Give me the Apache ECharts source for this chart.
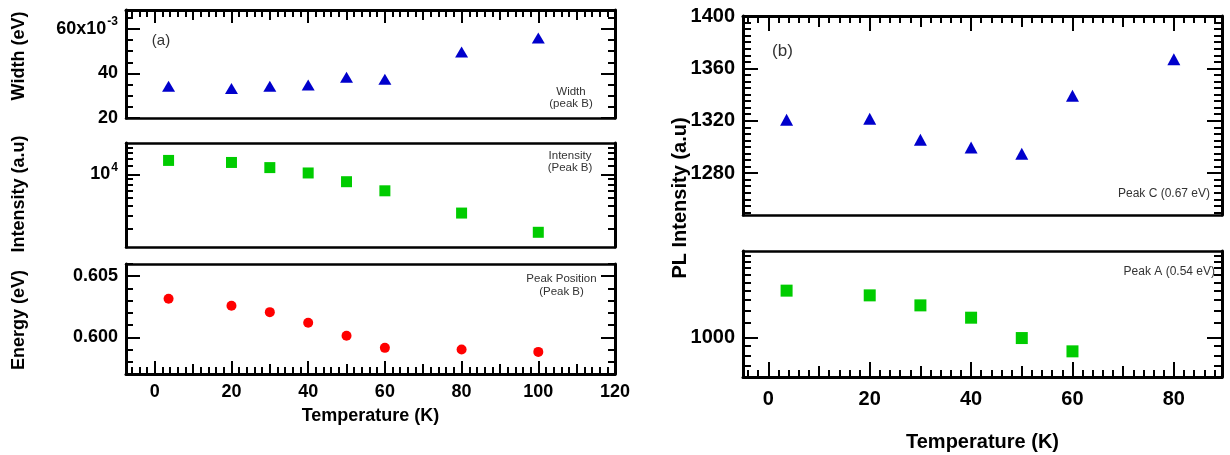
<!DOCTYPE html>
<html><head><meta charset="utf-8">
<script src="https://cdn.jsdelivr.net/npm/echarts@6/dist/echarts.min.js"></script>
<style>html,body{margin:0;padding:0;background:#fff}#c{width:1230px;height:455px}</style>
</head><body><div id="c"></div>
<script>
// ---------- data ----------
const tempPeakB = [3.6, 20, 30, 40, 50, 60, 80, 100];
const widthPeakB = [34.3, 33.3, 34.3, 34.8, 38.3, 37.4, 49.6, 55.9];      // x10^-3 eV
const intensityPeakB = [13600, 13000, 11600, 10300, 8490, 6940, 4240, 2770];
const energyPeakB = [0.60316, 0.60258, 0.60206, 0.60120, 0.60013, 0.59914, 0.59901, 0.59881];
const tempPeakC = [3.6, 20, 30, 40, 50, 60, 80];
const intensityPeakC = [1320.8, 1321.5, 1305.5, 1299.6, 1294.8, 1339.1, 1366.9];
const tempPeakA = [3.6, 20, 30, 40, 50, 60];
const intensityPeakA = [1805, 1701, 1500, 1285, 995, 842];

// ---------- tick labels ----------
const leftTempLabels = [0, 20, 40, 60, 80, 100, 120];
const leftTempMedium = [10, 30, 50, 70, 90, 110];
const rightTempLabels = [0, 20, 40, 60, 80];
const rightTempMedium = [10, 30, 50, 70];
const widthLabels = [20, 40, 60];
const widthMinor = [25, 30, 35, 45, 50, 55, 65];
const intensityBLabels = [10000];
const intensityBMinor = [3000, 4000, 5000, 6000, 7000, 8000, 9000, 12000, 14000, 16000, 18000];
const energyLabels = [0.600, 0.605];
const energyMinor = [0.597, 0.598, 0.599, 0.601, 0.602, 0.603, 0.604, 0.606];
const peakCLabels = [1280, 1320, 1360, 1400];
const peakCMinor = [1250, 1255, 1260, 1265, 1270, 1275, 1285, 1290, 1295, 1300, 1305, 1310, 1315,
  1325, 1330, 1335, 1340, 1345, 1350, 1355, 1365, 1370, 1375, 1380, 1385, 1390, 1395];
const peakALabels = [1000];
const peakAMinor = [700, 800, 900, 1200, 1400, 1600, 1800, 2000, 2200, 2400, 2600, 2800];

function minorSteps(from, to) { // 2 K minor ticks, skipping those on 10 K
  const out = [];
  for (let v = from; v <= to; v += 2) if (v % 10 !== 0) out.push(v);
  return out;
}
const leftTempMinor = minorSteps(-6, 118);
const rightTempMinor = minorSteps(-4, 88);

const FONT = '"Liberation Sans", Arial, Helvetica, sans-serif';
const xAxes = [], yAxes = [];

function addAxis(list, o) {
  list.push({
    type: o.type || 'value', gridIndex: o.grid, position: o.pos,
    min: o.min, max: o.max, logBase: 10,
    name: o.name || '', nameLocation: 'middle', nameGap: o.nameGap || 0,
    nameTextStyle: { color: '#000', fontFamily: FONT, fontWeight: 'bold', fontSize: o.nameSize || 18 },
    axisLine: { show: !!o.line, onZero: false, lineStyle: { color: '#000', width: o.lw || 3 } },
    axisTick: o.ticks ? { show: true, inside: true, length: o.len, customValues: o.ticks,
      lineStyle: { color: '#000', width: 2 } } : { show: false },
    minorTick: { show: false },
    splitLine: { show: false },
    axisLabel: o.labels ? { show: true, customValues: o.labels, formatter: o.fmt, rich: o.rich,
      color: '#000', fontFamily: FONT, fontWeight: 'bold', fontSize: o.fs, margin: o.margin } : { show: false }
  });
  return list.length - 1;
}

const richL = {
  n: { fontSize: 18, fontWeight: 'bold', fontFamily: FONT, color: '#000', lineHeight: 26 },
  s: { fontSize: 12, fontWeight: 'bold', fontFamily: FONT, color: '#000', verticalAlign: 'top', lineHeight: 26, padding: [0, 0, 0, 1] }
};

// grid geometry
const grids = [
  { left: 126, top: 10, width: 489, height: 108 },
  { left: 126, top: 143, width: 489, height: 104 },
  { left: 126, top: 264, width: 489, height: 110 },
  { left: 743, top: 16, width: 479, height: 199 },
  { left: 743, top: 251, width: 479, height: 126 }
].map(g => Object.assign({ outerBoundsMode: 'none', containLabel: false, show: false }, g));

const LX = { min: -7.5, max: 120 }, RX = { min: -5, max: 89.5 };

function tempTicks(grid, pos, R, major, medium, minor, withLabels, name, fs, nameGap, lens, margin) {
  const main = addAxis(xAxes, Object.assign({ grid, pos, line: true, ticks: major, len: lens[0],
    labels: withLabels ? major : null, fs, margin, name, nameGap, nameSize: fs }, R));
  addAxis(xAxes, Object.assign({ grid, pos, ticks: medium, len: lens[1] }, R));
  addAxis(xAxes, Object.assign({ grid, pos, ticks: minor, len: lens[2] }, R));
  return main;
}
function yTicks(grid, R, type, major, minor, labels, fmt, rich, fs, lens) {
  const main = addAxis(yAxes, Object.assign({ grid, pos: 'left', type, line: true, ticks: major, len: lens[0],
    labels, fmt, rich, fs, margin: 8 }, R));
  addAxis(yAxes, Object.assign({ grid, pos: 'left', type, ticks: minor, len: lens[1] }, R));
  addAxis(yAxes, Object.assign({ grid, pos: 'right', type, line: true, ticks: major, len: lens[0] }, R));
  addAxis(yAxes, Object.assign({ grid, pos: 'right', type, ticks: minor, len: lens[1] }, R));
  return main;
}

// Grid 0: width
const x0 = addAxis(xAxes, Object.assign({ grid: 0, pos: 'bottom', line: true, lw: 2.5 }, LX));
tempTicks(0, 'top', LX, leftTempLabels, leftTempMedium, leftTempMinor, false, '', 18, 0, [13, 10, 7], 9);
const y0 = yTicks(0, { min: 20, max: 68.5 }, 'value', widthLabels, widthMinor, widthLabels,
  v => v === 60 ? '{n|60x10}{s|-3}' : '{n|' + v + '}', richL, 18, [14, 7]);

// Grid 1: intensity (log)
const x1 = addAxis(xAxes, Object.assign({ grid: 1, pos: 'bottom', line: true, lw: 2.5 }, LX));
addAxis(xAxes, Object.assign({ grid: 1, pos: 'top', line: true, lw: 2.5 }, LX));
const y1 = yTicks(1, { min: 2000, max: 20000 }, 'log', intensityBLabels, intensityBMinor, intensityBLabels,
  v => '{n|10}{s|4}', richL, 18, [14, 7]);

// Grid 2: energy
const x2 = tempTicks(2, 'bottom', LX, leftTempLabels, leftTempMedium, leftTempMinor, true, 'Temperature (K)', 18, 33, [13, 10, 7], 9);
addAxis(xAxes, Object.assign({ grid: 2, pos: 'top', line: true, lw: 2.5 }, LX));
const y2 = yTicks(2, { min: 0.597, max: 0.606 }, 'value', energyLabels, energyMinor, energyLabels,
  v => v.toFixed(3), null, 18, [14, 7]);

// Grid 3: peak C
const x3 = addAxis(xAxes, Object.assign({ grid: 3, pos: 'bottom', line: true, lw: 2.5 }, RX));
tempTicks(3, 'top', RX, rightTempLabels, rightTempMedium, rightTempMinor, false, '', 20, 0, [15, 11, 7], 12);
const y3 = yTicks(3, { min: 1248, max: 1400 }, 'value', peakCLabels, peakCMinor, peakCLabels,
  v => String(v), null, 20, [15, 8]);

// Grid 4: peak A (log)
const x4 = tempTicks(4, 'bottom', RX, rightTempLabels, rightTempMedium, rightTempMinor, true, 'Temperature (K)', 20, 55, [15, 11, 7], 12);
addAxis(xAxes, Object.assign({ grid: 4, pos: 'top', line: true, lw: 2.5 }, RX));
const y4 = yTicks(4, { min: 610, max: 2970 }, 'log', peakALabels, peakAMinor, peakALabels,
  v => String(v), null, 20, [15, 8]);

const zip = (xs, ys) => xs.map((x, i) => [x, ys[i]]);
const BLUE = '#0000CC', GREEN = '#00CC00', RED = '#FF0000';
const solid = c => ({ color: c, opacity: 1 });

const series = [
  { name: 'Width (peak B)', type: 'scatter', xAxisIndex: x0, yAxisIndex: y0, data: zip(tempPeakB, widthPeakB),
    symbol: 'triangle', symbolSize: [13, 11], itemStyle: solid(BLUE) },
  { name: 'Intensity (Peak B)', type: 'scatter', xAxisIndex: x1, yAxisIndex: y1, data: zip(tempPeakB, intensityPeakB),
    symbol: 'rect', symbolSize: 11, itemStyle: solid(GREEN) },
  { name: 'Peak Position (Peak B)', type: 'scatter', xAxisIndex: x2, yAxisIndex: y2, data: zip(tempPeakB, energyPeakB),
    symbol: 'circle', symbolSize: 10, itemStyle: solid(RED) },
  { name: 'Peak C (0.67 eV)', type: 'scatter', xAxisIndex: x3, yAxisIndex: y3, data: zip(tempPeakC, intensityPeakC),
    symbol: 'triangle', symbolSize: [13, 12], itemStyle: solid(BLUE) },
  { name: 'Peak A (0.54 eV)', type: 'scatter', xAxisIndex: x4, yAxisIndex: y4, data: zip(tempPeakA, intensityPeakA),
    symbol: 'rect', symbolSize: 12, itemStyle: solid(GREEN) }
];

function txt(text, x, y, opts) {
  return Object.assign({ type: 'text', x, y, z: 100, silent: true,
    style: Object.assign({ text, fill: '#333', fontFamily: FONT, fontSize: 11.5,
      align: 'center', verticalAlign: 'middle', lineHeight: 12 }, (opts && opts.style) || {}) },
    opts && opts.rotation ? { rotation: opts.rotation } : {});
}
const titleStyle = { fill: '#000', fontWeight: 'bold', fontSize: 18, lineHeight: 20 };
const graphic = [
  txt('(a)', 161, 41, { style: { fontSize: 15, lineHeight: 16 } }),
  txt('Width\n(peak B)', 571, 97.5),
  txt('Intensity\n(Peak B)', 570, 162),
  txt('Peak Position\n(Peak B)', 561.5, 285.5, { style: { lineHeight: 12.5 } }),
  txt('(b)', 782.5, 51.5, { style: { fontSize: 17, lineHeight: 18 } }),
  txt('Peak C (0.67 eV)', 1210, 193.5, { style: { fontSize: 12, align: 'right' } }),
  txt('Peak A (0.54 eV)', 1215, 271.5, { style: { fontSize: 12, align: 'right' } }),
  txt('Width (eV)', 19, 56, { rotation: Math.PI / 2, style: titleStyle }),
  txt('Intensity (a.u)', 19, 194, { rotation: Math.PI / 2, style: titleStyle }),
  txt('Energy (eV)', 19, 320, { rotation: Math.PI / 2, style: titleStyle }),
  txt('PL Intensity (a.u)', 680, 198, { rotation: Math.PI / 2, style: Object.assign({}, titleStyle, { fontSize: 20, lineHeight: 22 }) })
];

const chart = echarts.init(document.getElementById('c'), null, { renderer: 'canvas' });
chart.setOption({
  animation: false,
  backgroundColor: '#fff',
  grid: grids,
  xAxis: xAxes,
  yAxis: yAxes,
  series,
  graphic
});
</script>
</body></html>
